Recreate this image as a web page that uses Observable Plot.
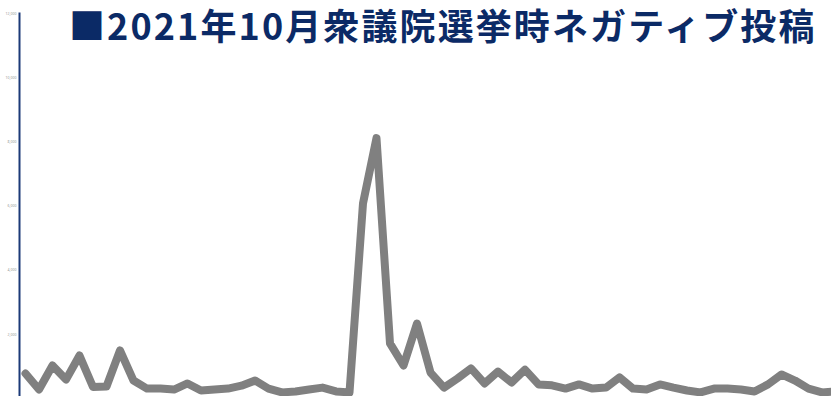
<!DOCTYPE html>
<html><head><meta charset="utf-8">
<script src="https://cdn.jsdelivr.net/npm/d3@7"></script>
<script src="https://cdn.jsdelivr.net/npm/@observablehq/plot@0.6"></script>
<style>
html,body{margin:0;padding:0;background:#fff;overflow:hidden;}
#wrap{position:relative;width:831px;height:396px;}
#title{position:absolute;left:69px;top:4px;font-family:"Noto Sans CJK JP",sans-serif;font-weight:700;font-size:36px;line-height:40px;color:#0b2a66;white-space:nowrap;letter-spacing:2.1px;z-index:2;}
#chart{position:absolute;left:0;top:0;}
</style></head>
<body><div id="wrap"><div id="title">■2021年10月衆議院選挙時ネガティブ投稿</div><div id="chart"></div></div>
<script>
const titleText = "■2021年10月衆議院選挙時ネガティブ投稿";
const days = d3.range(61);
const posts = [780,280,1030,590,1340,360,375,1500,560,310,
  310,280,470,250,280,310,400,560,310,190,
  220,280,340,220,190,6090,8125,1720,1030,2340,
  810,340,625,940,470,840,500,900,440,410,
  310,440,310,340,660,310,280,440,340,250,
  190,310,310,280,220,440,750,560,310,190,220];
const yTicks = [2000,4000,6000,8000,10000,12000];
const data = days.map((d,i)=>({day:d, value:posts[i]}));
const chart = Plot.plot({
  width: 831, height: 396,
  marginLeft: 19, marginTop: 13, marginBottom: 0, marginRight: 0,
  x: {domain:[0,60], range:[25,835], axis:null},
  y: {domain:[0,12000], range:[398,13.5]},
  style: {background:"transparent", overflow:"visible"},
  marks: [
    Plot.axisY({ticks: yTicks, tickSize:0, tickPadding:3, fontSize:3.5, color:"#999", tickFormat: d3.format(","), label:null}),
    Plot.frame({anchor:"left", stroke:"#1c3a78", strokeWidth:2}),
    Plot.line(data, {x:"day", y:"value", stroke:"#808080", strokeWidth:8, strokeLinejoin:"round", strokeLinecap:"round"})
  ]
});
document.getElementById("chart").appendChild(chart);
</script>
</body></html>
